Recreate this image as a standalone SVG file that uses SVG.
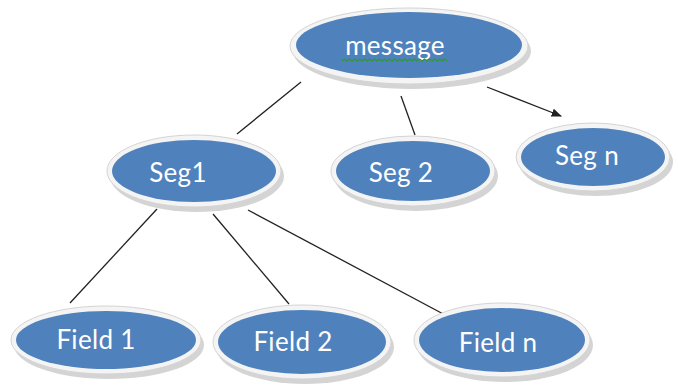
<svg xmlns="http://www.w3.org/2000/svg" width="678" height="388" viewBox="0 0 678 388">
<defs>
<style>
.shadow{fill:#b8b8b8;opacity:0.6}
.rim{fill:#f4f4f4;stroke:#d4d4d4;stroke-width:1}
.body{fill:#4f81bd}
.lbl{font-family:Lato,"Open Sans","Liberation Sans",sans-serif;font-size:26px;fill:#ffffff;text-anchor:middle;letter-spacing:0.3px}
.conn{stroke:#222;stroke-width:1.3;fill:none}
</style>
<marker id="arr" viewBox="0 0 10 10" refX="9" refY="5" markerWidth="8" markerHeight="8" orient="auto">
<path d="M0,1 L10,5 L0,9 z" fill="#222"/>
</marker>
</defs>
<rect width="678" height="388" fill="#ffffff"/>
<g id="connectors">
<line class="conn" x1="301" y1="82" x2="237" y2="134"/>
<line class="conn" x1="401" y1="96" x2="415" y2="135"/>
<line class="conn" x1="487" y1="87" x2="561" y2="116" marker-end="url(#arr)"/>
<line class="conn" x1="157" y1="209" x2="70" y2="303"/>
<line class="conn" x1="213" y1="214" x2="289" y2="304"/>
<line class="conn" x1="248" y1="210" x2="447" y2="316"/>
</g>
<g id="message">
<ellipse class="shadow" cx="412" cy="51" rx="119" ry="38"/>
<ellipse class="rim" cx="409" cy="46" rx="119" ry="38"/>
<ellipse class="body" cx="409" cy="45" rx="113" ry="33"/>
<text class="lbl" x="395" y="55">message</text>
<path d="M342,61 l2.5,-2 l2.5,2 l2.5,-2 l2.5,2 l2.5,-2 l2.5,2 l2.5,-2 l2.5,2 l2.5,-2 l2.5,2 l2.5,-2 l2.5,2 l2.5,-2 l2.5,2 l2.5,-2 l2.5,2 l2.5,-2 l2.5,2 l2.5,-2 l2.5,2 l2.5,-2 l2.5,2 l2.5,-2 l2.5,2 l2.5,-2 l2.5,2 l2.5,-2 l2.5,2 l2.5,-2 l2.5,2 l2.5,-2 l2.5,2 l2.5,-2 l2.5,2 l2.5,-2 l2.5,2 l2.5,-2 l2.5,2 l2.5,-2 l2.5,2 l2.5,-2 l2.5,2" fill="none" stroke="#2e9a2e" stroke-width="1.2"/>
</g>
<g id="seg1">
<ellipse class="shadow" cx="197" cy="176" rx="87" ry="36"/>
<ellipse class="rim" cx="194" cy="171" rx="87" ry="36"/>
<ellipse class="body" cx="194" cy="171" rx="82" ry="31"/>
<text class="lbl" x="178" y="182">Seg1</text>
</g>
<g id="seg2">
<ellipse class="shadow" cx="416" cy="176" rx="82" ry="35"/>
<ellipse class="rim" cx="413" cy="171" rx="82" ry="35"/>
<ellipse class="body" cx="413" cy="171" rx="77" ry="30"/>
<text class="lbl" x="401" y="182">Seg 2</text>
</g>
<g id="segn">
<ellipse class="shadow" cx="596" cy="162" rx="77" ry="34"/>
<ellipse class="rim" cx="593" cy="157" rx="77" ry="34"/>
<ellipse class="body" cx="593" cy="157" rx="72" ry="29"/>
<text class="lbl" x="587" y="165">Seg n</text>
</g>
<g id="field1">
<ellipse class="shadow" cx="109" cy="345" rx="95" ry="34"/>
<ellipse class="rim" cx="106" cy="340" rx="95" ry="34"/>
<ellipse class="body" cx="106" cy="340" rx="90" ry="29"/>
<text class="lbl" x="96" y="349">Field 1</text>
</g>
<g id="field2">
<ellipse class="shadow" cx="305" cy="347" rx="89" ry="37"/>
<ellipse class="rim" cx="302" cy="342" rx="89" ry="37"/>
<ellipse class="body" cx="302" cy="342" rx="84" ry="32"/>
<text class="lbl" x="293" y="351">Field 2</text>
</g>
<g id="fieldn">
<ellipse class="shadow" cx="505" cy="345" rx="88" ry="37"/>
<ellipse class="rim" cx="502" cy="340" rx="88" ry="37"/>
<ellipse class="body" cx="502" cy="340" rx="83" ry="32"/>
<text class="lbl" x="498" y="352">Field n</text>
</g>
</svg>
